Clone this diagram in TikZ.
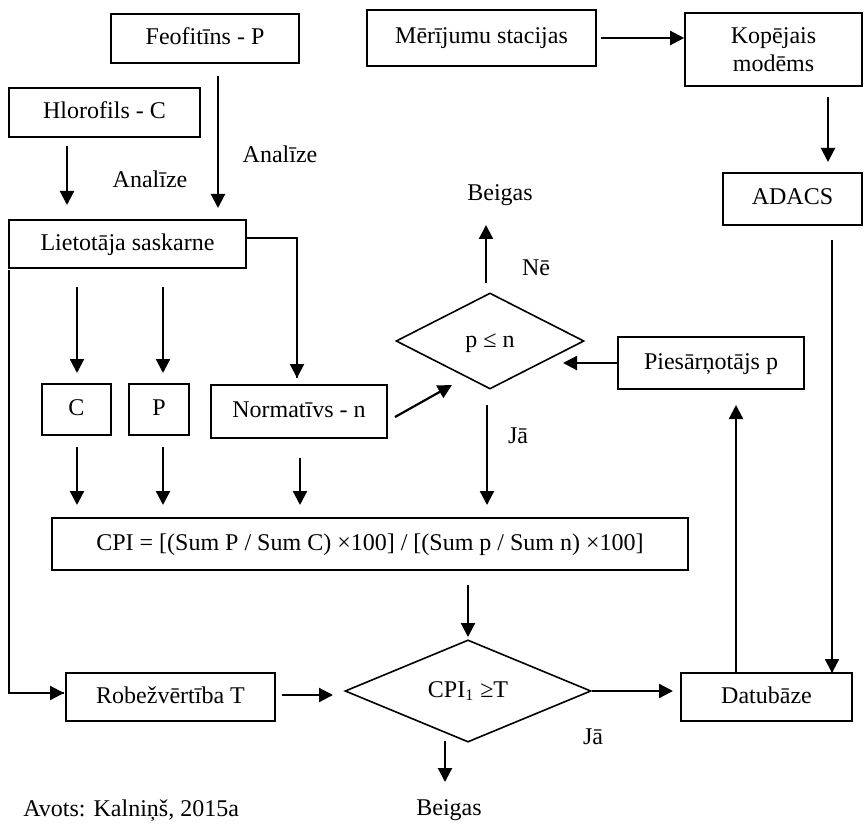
\documentclass[tikz,border=0pt]{standalone}
\usepackage{fontspec}
\setmainfont{Liberation Serif}
\usetikzlibrary{arrows.meta,shapes.geometric}
\tikzset{
  txt/.style={font=\fontsize{12}{14}\selectfont, inner sep=0pt},
  mbox/.style={txt, draw, line width=0.8pt, align=center},
  box/.style={mbox, text height=8.5pt, text depth=2.5pt},
  dia/.style={txt, draw, line width=0.8pt, diamond, text height=8.5pt, text depth=2.5pt},
  arr/.style={line width=1.1pt, -{Triangle[length=7pt,width=7pt]}},
  ln/.style={line width=0.8pt},
}
\begin{document}
\begin{tikzpicture}[x=0.5pt,y=-0.5pt]
\useasboundingbox (0,0) rectangle (865,823);
% boxes (centres in px, sizes in pt = px/2)
\node[box, minimum width=94pt, minimum height=24.5pt] (feo) at (205,38.5) {Feofitīns - P};
\node[box, minimum width=95.5pt, minimum height=24.5pt] (hlo) at (104.5,112.5) {Hlorofils - C};
\node[box, minimum width=118.5pt, minimum height=24pt] (lie) at (127.5,244) {Lietotāja saskarne};
\node[box, minimum width=114.5pt, minimum height=28pt] (mer) at (481.5,38) {Mērījumu stacijas};
\node[mbox, minimum width=88.5pt, minimum height=36.5pt] (kop) at (773.5,49.5) {Kopējais\\modēms};
\node[box, minimum width=69.5pt, minimum height=26pt] (ada) at (792.5,199) {ADACS};
\node[box, minimum width=93pt, minimum height=26pt] (pie) at (711,363) {Piesārņotājs p};
\node[box, minimum width=34.5pt, minimum height=25.5pt] (cc) at (76.5,409.5) {C};
\node[box, minimum width=30pt, minimum height=25.5pt] (pp) at (159,409.5) {P};
\node[box, minimum width=88pt, minimum height=26.5pt] (nor) at (299,411.5) {Normatīvs - n};
\node[box, minimum width=318pt, minimum height=26pt] (cpi) at (370,544) {CPI = [(Sum P / Sum C) ×100] / [(Sum p / Sum n) ×100]};
\node[box, minimum width=104.5pt, minimum height=24pt] (rob) at (170.5,697) {Robežvērtība T};
\node[box, minimum width=85.5pt, minimum height=24pt] (dat) at (766.5,697) {Datubāze};
\node[dia, minimum width=94pt, minimum height=48pt] (d1) at (490,341) {p ≤ n};
\node[dia, minimum width=123pt, minimum height=47.5pt] (d2) at (468,691) {CPI\textsubscript{1} ≥T};
% labels
\node[txt, anchor=base] (an1) at (150,188) {Analīze};
\node[txt, anchor=base] (an2) at (280,163) {Analīze};
\node[txt, anchor=base] (be1) at (500,201) {Beigas};
\node[txt, anchor=base] (ne) at (536,276) {Nē};
\node[txt, anchor=base] (ja1) at (518,443) {Jā};
\node[txt, anchor=base] (ja2) at (593,744) {Jā};
\node[txt, anchor=base] (be2) at (449,815) {Beigas};
\node[txt, anchor=base west] (avo) at (23,816) {Avots: Kalniņš, 2015a};
% connector end points
\coordinate (h1) at (67,146);   \coordinate (h2) at (67,205);
\coordinate (f1) at (218,76);   \coordinate (f2) at (218,208);
\coordinate (k1) at (828,97);   \coordinate (k2) at (828,162);
\coordinate (lr) at (297,238);  \coordinate (n0) at (297,378);
\coordinate (c1) at (77,287);   \coordinate (c2) at (77,373);
\coordinate (p1) at (163,287);  \coordinate (p2) at (163,373);
\coordinate (c3) at (77,447);   \coordinate (c4) at (77,505);
\coordinate (p3) at (163,447);  \coordinate (p4) at (163,505);
\coordinate (n3) at (300,458);  \coordinate (n4) at (300,505);
\coordinate (n5) at (395,417);  \coordinate (n6) at (452,385);
\coordinate (q1) at (563,363);
\coordinate (u1) at (486,283);  \coordinate (u2) at (486,225);
\coordinate (j1) at (487,405);  \coordinate (j2) at (487,505);
\coordinate (s1) at (468,585);  \coordinate (s2) at (468,637);
\coordinate (l1) at (9,270);    \coordinate (l2) at (9,693);  \coordinate (l3) at (64,693);
\coordinate (r1) at (282,695);  \coordinate (r2) at (333,695);
\coordinate (b1) at (445,741);  \coordinate (b2) at (445,782);
\coordinate (t1) at (736,673);  \coordinate (t2) at (736,405);
\coordinate (a1) at (832,240);  \coordinate (a2) at (832,673);
\coordinate (e1) at (673,691);
% connectors
\draw[arr] (h1) -- (h2);
\draw[arr] (f1) -- (f2);
\draw[arr] (mer.east) ++(4,0) -- (kop.west |- mer.east) ;
\draw[arr] (k1) -- (k2);
\draw[ln] (lie.east |- lr) -- (lr) -- (n0);
\draw[arr] (lr) ++(0,60) -- (n0);
\draw[arr] (c1) -- (c2);
\draw[arr] (p1) -- (p2);
\draw[arr] (c3) -- (c4);
\draw[arr] (p3) -- (p4);
\draw[arr] (n3) -- (n4);
\draw[arr] (n5) -- (n6);
\draw[arr] (pie.west) -- (q1);
\draw[arr] (u1) -- (u2);
\draw[arr] (j1) -- (j2);
\draw[arr] (s1) -- (s2);
\draw[ln] (l1) -- (l2) -- (l3);
\draw[arr] (l2) ++(20,0) -- (l3);
\draw[arr] (r1) -- (r2);
\draw[arr] (d2.east) -- (e1);
\draw[arr] (b1) -- (b2);
\draw[arr] (t1) -- (t2);
\draw[ln] (a1) -- (a2);
\draw[arr] (a1) ++(0,380) -- (a2);
\end{tikzpicture}
\end{document}
